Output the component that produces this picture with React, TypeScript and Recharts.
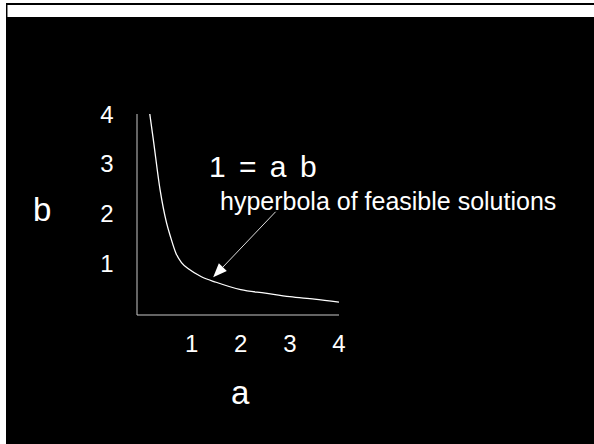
import React from 'react';
import { LineChart, Line, XAxis, YAxis, ReferenceLine } from 'recharts';

// values
const aValues = [0.15, 0.22, 0.36, 0.49, 0.58, 0.68, 0.8, 0.95, 1.2, 1.5, 2, 2.5, 3, 3.5, 4];
const bValues = [4.0, 3.5, 2.47, 1.81, 1.5, 1.2, 1.0, 0.87, 0.72, 0.61, 0.46, 0.39, 0.32, 0.27, 0.21];
const aTicks = [1, 2, 3, 4];
const bTicks = [1, 2, 3, 4];
const arrowFrom = { a: 2.71, b: 2.03 };
const arrowTo = { a: 1.44, b: 0.71 };

const data = aValues.map((a, i) => ({ a, b: bValues[i] }));

const FONT = 'Arial, "Liberation Sans", sans-serif';

function TickText(props: any) {
  const { x, y, payload } = props;
  return (
    <text x={x} y={y} dy="0.36em" textAnchor="middle" fill="#fff" fontSize={24} fontFamily={FONT}>
      {payload.value}
    </text>
  );
}

function Arrow(props: any) {
  const { x1, y1, x2, y2 } = props;
  if ([x1, y1, x2, y2].some((v) => typeof v !== 'number')) return null;
  const ang = Math.atan2(y2 - y1, x2 - x1);
  const len = 14;
  const half = 5.5;
  const bx = x2 - len * Math.cos(ang);
  const by = y2 - len * Math.sin(ang);
  const px = -Math.sin(ang) * half;
  const py = Math.cos(ang) * half;
  return (
    <g>
      <line x1={x1} y1={y1} x2={bx} y2={by} stroke="#ddd" strokeWidth={1} />
      <polygon points={`${x2},${y2} ${bx + px},${by + py} ${bx - px},${by - py}`} fill="#fff" />
    </g>
  );
}

export default function App() {
  return (
    <div style={{ position: 'fixed', left: 0, top: 0, width: 594, height: 444, background: '#fff', overflow: 'hidden' }}>
      <div style={{ position: 'absolute', left: 6, top: 3, width: 600, height: 450, background: '#000' }} />
      <div style={{ position: 'absolute', left: 7, top: 5, width: 600, height: 12, background: '#fff', borderLeft: '1px solid #888' }} />
      <div style={{ position: 'absolute', left: 0, top: 0 }}>
        <LineChart width={594} height={444} data={data} margin={{ top: 114, right: 255, bottom: 89, left: 97 }}>
          <XAxis
            type="number"
            dataKey="a"
            domain={[-0.11, 4]}
            ticks={aTicks}
            allowDataOverflow
            height={40}
            stroke="#c8c8c8"
            tickLine={false}
            tickSize={0}
            tickMargin={28}
            tick={<TickText />}
          />
          <YAxis
            type="number"
            dataKey="b"
            domain={[-0.05, 4]}
            ticks={bTicks}
            allowDataOverflow
            width={40}
            stroke="#c8c8c8"
            tickLine={false}
            tickSize={0}
            tickMargin={30}
            tick={<TickText />}
          />
          <Line
            type="monotone"
            dataKey="b"
            stroke="#fff"
            strokeWidth={1.3}
            dot={false}
            isAnimationActive={false}
          />
          <ReferenceLine
            segment={[{ x: arrowFrom.a, y: arrowFrom.b }, { x: arrowTo.a, y: arrowTo.b }]}
            shape={<Arrow />}
            ifOverflow="visible"
          />
        </LineChart>
      </div>
      <svg width={594} height={444} style={{ position: 'absolute', left: 0, top: 0, pointerEvents: 'none' }}>
        <defs>
          <clipPath id="noteClip">
            <rect x={0} y={0} width={560} height={444} />
          </clipPath>
        </defs>
        <text x={33} y={221} fill="#fff" fontSize={33} fontFamily={FONT}>b</text>
        <text x={231} y={404} fill="#fff" fontSize={33} fontFamily={FONT}>a</text>
        <text x={209} y={177} fill="#fff" fontSize={30} fontFamily={FONT} wordSpacing={5}>1 = a b</text>
        <text x={220} y={210} fill="#fff" fontSize={25} fontFamily={FONT} clipPath="url(#noteClip)">
          hyperbola of feasible solutions
        </text>
      </svg>
    </div>
  );
}
